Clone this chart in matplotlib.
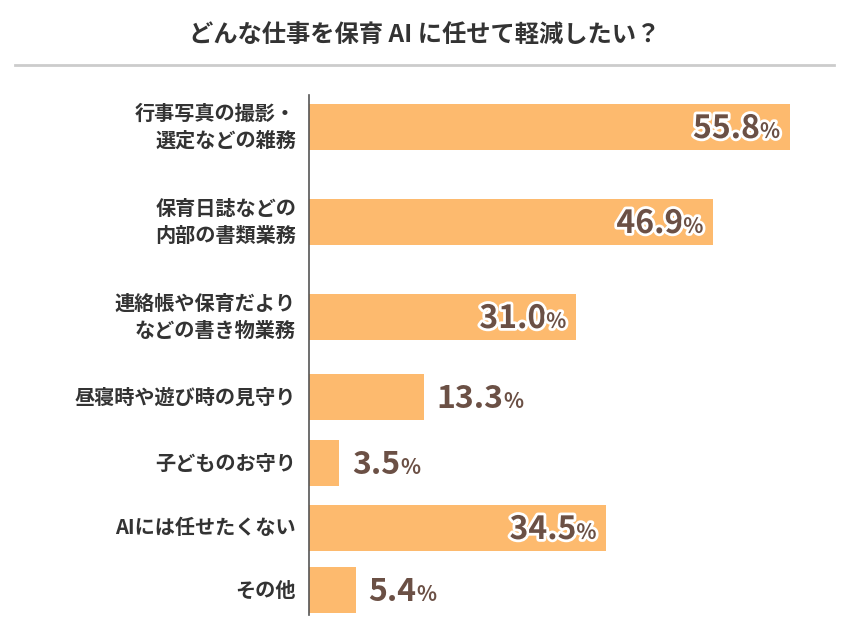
import matplotlib.pyplot as plt
import matplotlib.patheffects as pe

categories = ["行事写真の撮影・\n選定などの雑務", "保育日誌などの\n内部の書類業務", "連絡帳や保育だより\nなどの書き物業務",
              "昼寝時や遊び時の見守り", "子どものお守り", "AIには任せたくない", "その他"]
values = [55.8, 46.9, 31.0, 13.3, 3.5, 34.5, 5.4]
inside = [True, True, True, False, False, True, False]

# layout (pixel rows in the figure)
ycenters = [127, 222, 317, 397, 463, 528, 590]
barh = 46
brown = "#6b5045"
plt.rcParams["font.family"] = "Noto Sans CJK JP"

fig = plt.figure(figsize=(8.49, 6.41), dpi=100)
x0, x1 = 309, 835
scale = (790 - 309) / 55.8
ax = fig.add_axes([x0 / 849, 0, (x1 - x0) / 849, 1])
ax.set_xlim(0, (x1 - x0) / scale)
ax.set_ylim(641, 0)
ax.axis("off")

ax.barh(ycenters, values, height=barh, color="#FDBA6E")
ax.plot([0, 0], [95, 615], color="#555555", lw=1.2, clip_on=False)

for y, v, lab, ins in zip(ycenters, values, categories, inside):
    ax.text(-13 / scale, y, lab, ha="right", va="center", fontsize=14.5, fontweight="bold",
            color="#333333", linespacing=1.35)
    if ins:
        t = ax.text(v - 30 / scale, y + 2, f"{v:.1f}", ha="right", va="center", fontsize=23,
                    fontweight="bold", color=brown,
                    path_effects=[pe.withStroke(linewidth=4, foreground="white")])
        ax.annotate("%", xy=(1, 0.1), xycoords=t, va="bottom", ha="left", fontsize=15,
                    fontweight="bold", color=brown,
                    path_effects=[pe.withStroke(linewidth=4, foreground="white")])
    else:
        t = ax.text(v + 13 / scale, y + 2, f"{v:.1f}", ha="left", va="center", fontsize=23,
                    fontweight="bold", color=brown)
        ax.annotate("%", xy=(1, 0.1), xycoords=t, va="bottom", ha="left", fontsize=15,
                    fontweight="bold", color=brown)

fig.text(0.5, 1 - 35 / 641, "どんな仕事を保育 AI に任せて軽減したい？", ha="center", va="center",
         fontsize=17.5, fontweight="bold", color="#333333")
fig.add_artist(plt.Line2D([15 / 849, 834 / 849], [1 - 65 / 641] * 2, color="#cccccc", lw=2))

fig.savefig("out.png", dpi=100, facecolor="white")
